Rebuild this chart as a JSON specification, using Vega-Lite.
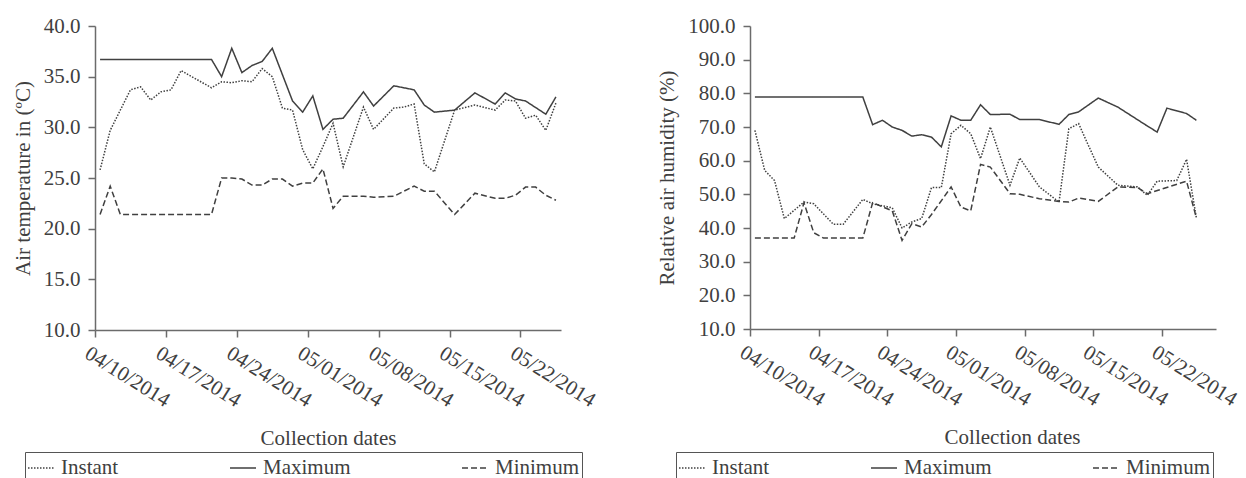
{
  "$schema": "https://vega.github.io/schema/vega-lite/v6.json",
  "padding": {"left": 12, "top": 15, "right": 0, "bottom": 0},
  "spacing": 57,
  "background": "white",
  "datasets": {
    "temp": [
      {"date": "2014/04/10", "series": "Maximum", "value": 36.7},
      {"date": "2014/04/21", "series": "Maximum", "value": 36.7},
      {"date": "2014/04/22", "series": "Maximum", "value": 35.0},
      {"date": "2014/04/23", "series": "Maximum", "value": 37.8},
      {"date": "2014/04/24", "series": "Maximum", "value": 35.4},
      {"date": "2014/04/25", "series": "Maximum", "value": 36.1},
      {"date": "2014/04/26", "series": "Maximum", "value": 36.5},
      {"date": "2014/04/27", "series": "Maximum", "value": 37.8},
      {"date": "2014/04/29", "series": "Maximum", "value": 32.6},
      {"date": "2014/04/30", "series": "Maximum", "value": 31.5},
      {"date": "2014/05/01", "series": "Maximum", "value": 33.1},
      {"date": "2014/05/02", "series": "Maximum", "value": 29.8},
      {"date": "2014/05/03", "series": "Maximum", "value": 30.8},
      {"date": "2014/05/04", "series": "Maximum", "value": 30.9},
      {"date": "2014/05/06", "series": "Maximum", "value": 33.5},
      {"date": "2014/05/07", "series": "Maximum", "value": 32.1},
      {"date": "2014/05/09", "series": "Maximum", "value": 34.1},
      {"date": "2014/05/11", "series": "Maximum", "value": 33.7},
      {"date": "2014/05/12", "series": "Maximum", "value": 32.2},
      {"date": "2014/05/13", "series": "Maximum", "value": 31.5},
      {"date": "2014/05/15", "series": "Maximum", "value": 31.7},
      {"date": "2014/05/17", "series": "Maximum", "value": 33.4},
      {"date": "2014/05/19", "series": "Maximum", "value": 32.3},
      {"date": "2014/05/20", "series": "Maximum", "value": 33.4},
      {"date": "2014/05/21", "series": "Maximum", "value": 32.8},
      {"date": "2014/05/22", "series": "Maximum", "value": 32.6},
      {"date": "2014/05/24", "series": "Maximum", "value": 31.3},
      {"date": "2014/05/25", "series": "Maximum", "value": 33.0},
      {"date": "2014/04/10", "series": "Instant", "value": 25.8},
      {"date": "2014/04/11", "series": "Instant", "value": 29.7},
      {"date": "2014/04/13", "series": "Instant", "value": 33.7},
      {"date": "2014/04/14", "series": "Instant", "value": 34.0},
      {"date": "2014/04/15", "series": "Instant", "value": 32.7},
      {"date": "2014/04/16", "series": "Instant", "value": 33.5},
      {"date": "2014/04/17", "series": "Instant", "value": 33.7},
      {"date": "2014/04/18", "series": "Instant", "value": 35.6},
      {"date": "2014/04/21", "series": "Instant", "value": 33.9},
      {"date": "2014/04/22", "series": "Instant", "value": 34.5},
      {"date": "2014/04/23", "series": "Instant", "value": 34.4},
      {"date": "2014/04/24", "series": "Instant", "value": 34.6},
      {"date": "2014/04/25", "series": "Instant", "value": 34.5},
      {"date": "2014/04/26", "series": "Instant", "value": 35.8},
      {"date": "2014/04/27", "series": "Instant", "value": 35.0},
      {"date": "2014/04/28", "series": "Instant", "value": 31.9},
      {"date": "2014/04/29", "series": "Instant", "value": 31.7},
      {"date": "2014/04/30", "series": "Instant", "value": 27.8},
      {"date": "2014/05/01", "series": "Instant", "value": 25.9},
      {"date": "2014/05/02", "series": "Instant", "value": 28.1},
      {"date": "2014/05/03", "series": "Instant", "value": 30.4},
      {"date": "2014/05/04", "series": "Instant", "value": 26.1},
      {"date": "2014/05/06", "series": "Instant", "value": 32.0},
      {"date": "2014/05/07", "series": "Instant", "value": 29.8},
      {"date": "2014/05/09", "series": "Instant", "value": 31.9},
      {"date": "2014/05/10", "series": "Instant", "value": 32.0},
      {"date": "2014/05/11", "series": "Instant", "value": 32.3},
      {"date": "2014/05/12", "series": "Instant", "value": 26.4},
      {"date": "2014/05/13", "series": "Instant", "value": 25.6},
      {"date": "2014/05/15", "series": "Instant", "value": 31.7},
      {"date": "2014/05/17", "series": "Instant", "value": 32.2},
      {"date": "2014/05/19", "series": "Instant", "value": 31.7},
      {"date": "2014/05/20", "series": "Instant", "value": 32.7},
      {"date": "2014/05/21", "series": "Instant", "value": 32.6},
      {"date": "2014/05/22", "series": "Instant", "value": 30.9},
      {"date": "2014/05/23", "series": "Instant", "value": 31.2},
      {"date": "2014/05/24", "series": "Instant", "value": 29.7},
      {"date": "2014/05/25", "series": "Instant", "value": 32.4},
      {"date": "2014/04/10", "series": "Minimum", "value": 21.4},
      {"date": "2014/04/11", "series": "Minimum", "value": 24.2},
      {"date": "2014/04/12", "series": "Minimum", "value": 21.4},
      {"date": "2014/04/21", "series": "Minimum", "value": 21.4},
      {"date": "2014/04/22", "series": "Minimum", "value": 25.0},
      {"date": "2014/04/23", "series": "Minimum", "value": 25.0},
      {"date": "2014/04/24", "series": "Minimum", "value": 24.9},
      {"date": "2014/04/25", "series": "Minimum", "value": 24.3},
      {"date": "2014/04/26", "series": "Minimum", "value": 24.3},
      {"date": "2014/04/27", "series": "Minimum", "value": 24.9},
      {"date": "2014/04/28", "series": "Minimum", "value": 24.9},
      {"date": "2014/04/29", "series": "Minimum", "value": 24.2},
      {"date": "2014/04/30", "series": "Minimum", "value": 24.5},
      {"date": "2014/05/01", "series": "Minimum", "value": 24.5},
      {"date": "2014/05/02", "series": "Minimum", "value": 25.9},
      {"date": "2014/05/03", "series": "Minimum", "value": 22.0},
      {"date": "2014/05/04", "series": "Minimum", "value": 23.2},
      {"date": "2014/05/06", "series": "Minimum", "value": 23.2},
      {"date": "2014/05/07", "series": "Minimum", "value": 23.1},
      {"date": "2014/05/09", "series": "Minimum", "value": 23.2},
      {"date": "2014/05/11", "series": "Minimum", "value": 24.2},
      {"date": "2014/05/12", "series": "Minimum", "value": 23.7},
      {"date": "2014/05/13", "series": "Minimum", "value": 23.7},
      {"date": "2014/05/15", "series": "Minimum", "value": 21.4},
      {"date": "2014/05/17", "series": "Minimum", "value": 23.5},
      {"date": "2014/05/19", "series": "Minimum", "value": 23.0},
      {"date": "2014/05/20", "series": "Minimum", "value": 23.0},
      {"date": "2014/05/21", "series": "Minimum", "value": 23.3},
      {"date": "2014/05/22", "series": "Minimum", "value": 24.1},
      {"date": "2014/05/23", "series": "Minimum", "value": 24.1},
      {"date": "2014/05/24", "series": "Minimum", "value": 23.3},
      {"date": "2014/05/25", "series": "Minimum", "value": 22.8}
    ],
    "hum": [
      {"date": "2014/04/10", "series": "Maximum", "value": 78.9},
      {"date": "2014/04/21", "series": "Maximum", "value": 78.9},
      {"date": "2014/04/22", "series": "Maximum", "value": 70.7},
      {"date": "2014/04/23", "series": "Maximum", "value": 72.0},
      {"date": "2014/04/24", "series": "Maximum", "value": 70.0},
      {"date": "2014/04/25", "series": "Maximum", "value": 69.0},
      {"date": "2014/04/26", "series": "Maximum", "value": 67.3},
      {"date": "2014/04/27", "series": "Maximum", "value": 67.7},
      {"date": "2014/04/28", "series": "Maximum", "value": 67.0},
      {"date": "2014/04/29", "series": "Maximum", "value": 64.1},
      {"date": "2014/04/30", "series": "Maximum", "value": 73.3},
      {"date": "2014/05/01", "series": "Maximum", "value": 72.0},
      {"date": "2014/05/02", "series": "Maximum", "value": 72.0},
      {"date": "2014/05/03", "series": "Maximum", "value": 76.6},
      {"date": "2014/05/04", "series": "Maximum", "value": 73.7},
      {"date": "2014/05/06", "series": "Maximum", "value": 73.8},
      {"date": "2014/05/07", "series": "Maximum", "value": 72.2},
      {"date": "2014/05/09", "series": "Maximum", "value": 72.2},
      {"date": "2014/05/11", "series": "Maximum", "value": 70.8},
      {"date": "2014/05/12", "series": "Maximum", "value": 73.7},
      {"date": "2014/05/13", "series": "Maximum", "value": 74.5},
      {"date": "2014/05/15", "series": "Maximum", "value": 78.6},
      {"date": "2014/05/17", "series": "Maximum", "value": 75.9},
      {"date": "2014/05/20", "series": "Maximum", "value": 70.3},
      {"date": "2014/05/21", "series": "Maximum", "value": 68.5},
      {"date": "2014/05/22", "series": "Maximum", "value": 75.6},
      {"date": "2014/05/24", "series": "Maximum", "value": 74.0},
      {"date": "2014/05/25", "series": "Maximum", "value": 72.0},
      {"date": "2014/04/10", "series": "Instant", "value": 69.0},
      {"date": "2014/04/11", "series": "Instant", "value": 57.1},
      {"date": "2014/04/12", "series": "Instant", "value": 54.1},
      {"date": "2014/04/13", "series": "Instant", "value": 42.8},
      {"date": "2014/04/15", "series": "Instant", "value": 47.7},
      {"date": "2014/04/16", "series": "Instant", "value": 47.2},
      {"date": "2014/04/18", "series": "Instant", "value": 41.1},
      {"date": "2014/04/19", "series": "Instant", "value": 41.1},
      {"date": "2014/04/21", "series": "Instant", "value": 48.5},
      {"date": "2014/04/22", "series": "Instant", "value": 47.2},
      {"date": "2014/04/24", "series": "Instant", "value": 46.0},
      {"date": "2014/04/25", "series": "Instant", "value": 40.0},
      {"date": "2014/04/26", "series": "Instant", "value": 41.8},
      {"date": "2014/04/27", "series": "Instant", "value": 42.8},
      {"date": "2014/04/28", "series": "Instant", "value": 52.0},
      {"date": "2014/04/29", "series": "Instant", "value": 52.0},
      {"date": "2014/04/30", "series": "Instant", "value": 68.0},
      {"date": "2014/05/01", "series": "Instant", "value": 70.5},
      {"date": "2014/05/02", "series": "Instant", "value": 68.0},
      {"date": "2014/05/03", "series": "Instant", "value": 60.6},
      {"date": "2014/05/04", "series": "Instant", "value": 70.0},
      {"date": "2014/05/06", "series": "Instant", "value": 52.7},
      {"date": "2014/05/07", "series": "Instant", "value": 60.8},
      {"date": "2014/05/09", "series": "Instant", "value": 52.2},
      {"date": "2014/05/11", "series": "Instant", "value": 47.7},
      {"date": "2014/05/12", "series": "Instant", "value": 69.5},
      {"date": "2014/05/13", "series": "Instant", "value": 71.0},
      {"date": "2014/05/14", "series": "Instant", "value": 64.5},
      {"date": "2014/05/15", "series": "Instant", "value": 58.1},
      {"date": "2014/05/17", "series": "Instant", "value": 52.7},
      {"date": "2014/05/19", "series": "Instant", "value": 52.2},
      {"date": "2014/05/20", "series": "Instant", "value": 49.7},
      {"date": "2014/05/21", "series": "Instant", "value": 53.9},
      {"date": "2014/05/23", "series": "Instant", "value": 54.1},
      {"date": "2014/05/24", "series": "Instant", "value": 60.4},
      {"date": "2014/05/25", "series": "Instant", "value": 43.0},
      {"date": "2014/04/10", "series": "Minimum", "value": 37.0},
      {"date": "2014/04/14", "series": "Minimum", "value": 37.0},
      {"date": "2014/04/15", "series": "Minimum", "value": 47.5},
      {"date": "2014/04/16", "series": "Minimum", "value": 38.6},
      {"date": "2014/04/17", "series": "Minimum", "value": 37.0},
      {"date": "2014/04/21", "series": "Minimum", "value": 37.0},
      {"date": "2014/04/22", "series": "Minimum", "value": 47.5},
      {"date": "2014/04/24", "series": "Minimum", "value": 45.1},
      {"date": "2014/04/25", "series": "Minimum", "value": 36.3},
      {"date": "2014/04/26", "series": "Minimum", "value": 41.3},
      {"date": "2014/04/27", "series": "Minimum", "value": 40.3},
      {"date": "2014/04/28", "series": "Minimum", "value": 44.0},
      {"date": "2014/04/30", "series": "Minimum", "value": 52.2},
      {"date": "2014/05/01", "series": "Minimum", "value": 46.2},
      {"date": "2014/05/02", "series": "Minimum", "value": 45.1},
      {"date": "2014/05/03", "series": "Minimum", "value": 58.9},
      {"date": "2014/05/04", "series": "Minimum", "value": 58.1},
      {"date": "2014/05/06", "series": "Minimum", "value": 50.2},
      {"date": "2014/05/07", "series": "Minimum", "value": 50.0},
      {"date": "2014/05/09", "series": "Minimum", "value": 48.7},
      {"date": "2014/05/11", "series": "Minimum", "value": 47.9},
      {"date": "2014/05/12", "series": "Minimum", "value": 47.7},
      {"date": "2014/05/13", "series": "Minimum", "value": 48.9},
      {"date": "2014/05/15", "series": "Minimum", "value": 47.9},
      {"date": "2014/05/17", "series": "Minimum", "value": 52.2},
      {"date": "2014/05/19", "series": "Minimum", "value": 52.0},
      {"date": "2014/05/20", "series": "Minimum", "value": 50.2},
      {"date": "2014/05/24", "series": "Minimum", "value": 53.9},
      {"date": "2014/05/25", "series": "Minimum", "value": 43.0}
    ]
  },
  "resolve": {
    "scale": {"x": "independent", "y": "independent", "strokeDash": "independent"},
    "legend": {"strokeDash": "independent"}
  },
  "hconcat": [
    {
      "width": 466,
      "height": 304,
      "data": {"name": "temp"},
      "mark": {"type": "line", "color": "#404040", "strokeWidth": 1.5},
      "encoding": {
        "x": {
          "field": "date", "type": "temporal", "timeUnit": "yearmonthdate", "bandPosition": 0.5,
          "scale": {"domain": [{"year": 2014, "month": 4, "date": 10}, {"year": 2014, "month": 5, "date": 26}]},
          "axis": {
            "title": "Collection dates", "titleY": 97,
            "values": [{"year": 2014, "month": 4, "date": 10}, {"year": 2014, "month": 4, "date": 17}, {"year": 2014, "month": 4, "date": 24}, {"year": 2014, "month": 5, "date": 1}, {"year": 2014, "month": 5, "date": 8}, {"year": 2014, "month": 5, "date": 15}, {"year": 2014, "month": 5, "date": 22}],
            "format": "%m/%d/%Y", "labelAngle": 32, "labelAlign": "left", "labelBaseline": "top", "labelFontSize": 21, "labelPadding": 5, "labelOffset": -3
          }
        },
        "y": {
          "field": "value", "type": "quantitative",
          "scale": {"domain": [10, 40], "nice": false, "zero": false},
          "axis": {"title": "Air temperature in (ºC)", "values": [10, 15, 20, 25, 30, 35, 40], "format": ".1f"}
        },
        "strokeDash": {
          "field": "series", "type": "nominal",
          "scale": {"domain": ["Instant", "Maximum", "Minimum"], "range": [[1.5, 1.5], [1, 0], [6, 3]]},
          "legend": {"orient": "none", "legendX": -70, "legendY": 426}
        }
      }
    },
    {
      "width": 466,
      "height": 303,
      "data": {"name": "hum"},
      "mark": {"type": "line", "color": "#404040", "strokeWidth": 1.5},
      "encoding": {
        "x": {
          "field": "date", "type": "temporal", "timeUnit": "yearmonthdate", "bandPosition": 0.5,
          "scale": {"domain": [{"year": 2014, "month": 4, "date": 10}, {"year": 2014, "month": 5, "date": 27, "hours": 12}]},
          "axis": {
            "title": "Collection dates", "titleY": 97, "titleX": 262,
            "values": [{"year": 2014, "month": 4, "date": 10}, {"year": 2014, "month": 4, "date": 17}, {"year": 2014, "month": 4, "date": 24}, {"year": 2014, "month": 5, "date": 1}, {"year": 2014, "month": 5, "date": 8}, {"year": 2014, "month": 5, "date": 15}, {"year": 2014, "month": 5, "date": 22}],
            "format": "%m/%d/%Y", "labelAngle": 32, "labelAlign": "left", "labelBaseline": "top", "labelFontSize": 21, "labelPadding": 5, "labelOffset": -3
          }
        },
        "y": {
          "field": "value", "type": "quantitative",
          "scale": {"domain": [10, 100], "nice": false, "zero": false},
          "axis": {"title": "Relative air humidity (%)", "values": [10, 20, 30, 40, 50, 60, 70, 80, 90, 100], "format": ".1f"}
        },
        "strokeDash": {
          "field": "series", "type": "nominal",
          "scale": {"domain": ["Instant", "Maximum", "Minimum"], "range": [[1.5, 1.5], [1, 0], [6, 3]]},
          "legend": {"orient": "none", "legendX": -74, "legendY": 426, "columnPadding": 98}
        }
      }
    }
  ],
  "config": {
    "font": "Liberation Serif",
    "view": {"stroke": null},
    "axis": {
      "labelFont": "Liberation Serif", "titleFont": "Liberation Serif",
      "labelFontSize": 21, "titleFontSize": 21, "titleFontWeight": "normal",
      "labelColor": "#404040", "titleColor": "#404040",
      "domainColor": "#6b6b6b", "domainWidth": 1.5, "tickColor": "#6b6b6b", "tickWidth": 1.5, "tickSize": 7,
      "labelPadding": 8, "titlePadding": 10, "grid": false, "labelOverlap": false, "labelFlush": false, "labelBound": false
    },
    "legend": {
      "direction": "horizontal", "title": null, "symbolType": "stroke", "symbolSize": 676,
      "symbolStrokeWidth": 1.5, "symbolStrokeColor": "#404040",
      "labelFont": "Liberation Serif", "labelFontSize": 21, "labelColor": "#404040", "labelOffset": 6, "labelLimit": 0,
      "strokeColor": "#555555", "padding": 2, "columnPadding": 108, "gridAlign": "each"
    }
  }
}
